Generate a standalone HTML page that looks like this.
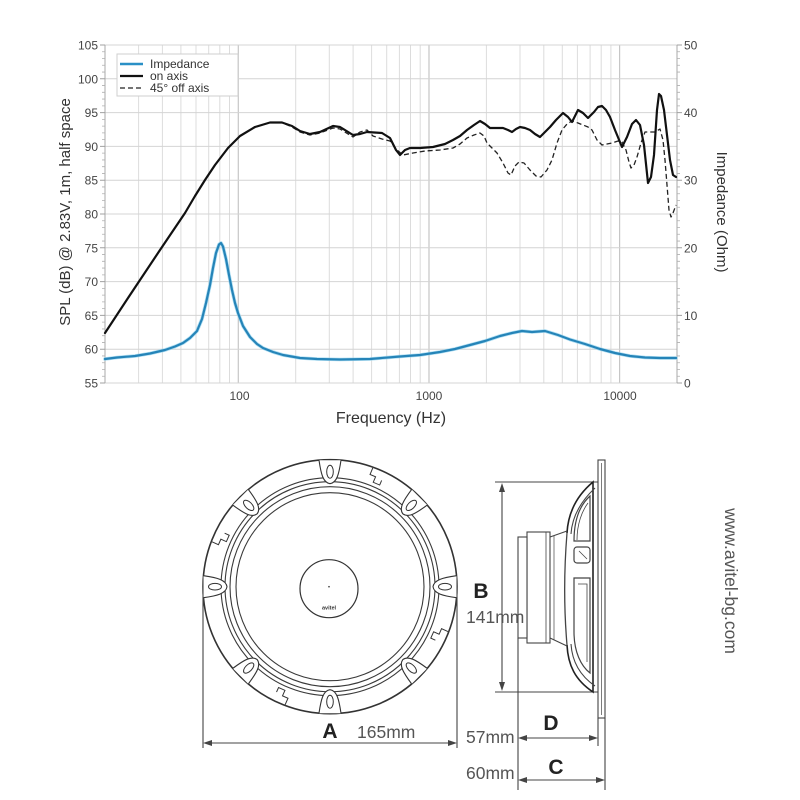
<!DOCTYPE html>
<html>
<head>
<meta charset="utf-8">
<style>
  html, body { margin:0; padding:0; background:#fff; }
  svg { display:block; }
  text { font-family: "Liberation Sans", Arial, sans-serif; }
</style>
</head>
<body>
<svg width="800" height="800" viewBox="0 0 800 800" xmlns="http://www.w3.org/2000/svg">
  <rect x="0" y="0" width="800" height="800" fill="#ffffff"/>

  <!-- ===== CHART GRID ===== -->
  <g stroke="#dcdcdc" stroke-width="1" fill="none">
    <line x1="138.6" y1="45" x2="138.6" y2="383"/>
    <line x1="162.4" y1="45" x2="162.4" y2="383"/>
    <line x1="180.9" y1="45" x2="180.9" y2="383"/>
    <line x1="196.0" y1="45" x2="196.0" y2="383"/>
    <line x1="208.7" y1="45" x2="208.7" y2="383"/>
    <line x1="219.8" y1="45" x2="219.8" y2="383"/>
    <line x1="229.5" y1="45" x2="229.5" y2="383"/>
    <line x1="295.7" y1="45" x2="295.7" y2="383"/>
    <line x1="329.3" y1="45" x2="329.3" y2="383"/>
    <line x1="353.1" y1="45" x2="353.1" y2="383"/>
    <line x1="371.6" y1="45" x2="371.6" y2="383"/>
    <line x1="386.7" y1="45" x2="386.7" y2="383"/>
    <line x1="399.4" y1="45" x2="399.4" y2="383"/>
    <line x1="410.5" y1="45" x2="410.5" y2="383"/>
    <line x1="420.2" y1="45" x2="420.2" y2="383"/>
    <line x1="486.4" y1="45" x2="486.4" y2="383"/>
    <line x1="520.0" y1="45" x2="520.0" y2="383"/>
    <line x1="543.8" y1="45" x2="543.8" y2="383"/>
    <line x1="562.3" y1="45" x2="562.3" y2="383"/>
    <line x1="577.4" y1="45" x2="577.4" y2="383"/>
    <line x1="590.1" y1="45" x2="590.1" y2="383"/>
    <line x1="601.2" y1="45" x2="601.2" y2="383"/>
    <line x1="610.9" y1="45" x2="610.9" y2="383"/>
  </g>
  <g stroke="#c6c6c6" stroke-width="1.2" fill="none">
    <line x1="238.3" y1="45" x2="238.3" y2="383"/>
    <line x1="429.0" y1="45" x2="429.0" y2="383"/>
    <line x1="619.6" y1="45" x2="619.6" y2="383"/>
  </g>
  <g stroke="#d4d4d4" stroke-width="1" fill="none">
    <line x1="105" y1="45" x2="677" y2="45"/>
    <line x1="105" y1="78.8" x2="677" y2="78.8"/>
    <line x1="105" y1="112.6" x2="677" y2="112.6"/>
    <line x1="105" y1="146.4" x2="677" y2="146.4"/>
    <line x1="105" y1="180.2" x2="677" y2="180.2"/>
    <line x1="105" y1="214" x2="677" y2="214"/>
    <line x1="105" y1="247.8" x2="677" y2="247.8"/>
    <line x1="105" y1="281.6" x2="677" y2="281.6"/>
    <line x1="105" y1="315.4" x2="677" y2="315.4"/>
    <line x1="105" y1="349.2" x2="677" y2="349.2"/>
    <line x1="105" y1="383" x2="677" y2="383"/>
  </g>

  <g stroke="#a8a8a8" stroke-width="1" fill="none">
    <line x1="105" y1="45" x2="105" y2="383"/>
    <line x1="677" y1="45" x2="677" y2="383"/>
  </g>
  <g stroke="#b0b0b0" stroke-width="0.8" fill="none">
    <path d="M102,51.76h3M102,58.52h3M102,65.28h3M102,72.04h3M102,85.56h3M102,92.32h3M102,99.08h3M102,105.84h3M102,119.36h3M102,126.12h3M102,132.88h3M102,139.64h3M102,153.16h3M102,159.92h3M102,166.68h3M102,173.44h3M102,186.96h3M102,193.72h3M102,200.48h3M102,207.24h3M102,220.76h3M102,227.52h3M102,234.28h3M102,241.04h3M102,254.56h3M102,261.32h3M102,268.08h3M102,274.84h3M102,288.36h3M102,295.12h3M102,301.88h3M102,308.64h3M102,322.16h3M102,328.92h3M102,335.68h3M102,342.44h3M102,355.96h3M102,362.72h3M102,369.48h3M102,376.24h3"/>
    <path d="M677,51.76h3M677,58.52h3M677,65.28h3M677,72.04h3M677,85.56h3M677,92.32h3M677,99.08h3M677,105.84h3M677,119.36h3M677,126.12h3M677,132.88h3M677,139.64h3M677,153.16h3M677,159.92h3M677,166.68h3M677,173.44h3M677,186.96h3M677,193.72h3M677,200.48h3M677,207.24h3M677,220.76h3M677,227.52h3M677,234.28h3M677,241.04h3M677,254.56h3M677,261.32h3M677,268.08h3M677,274.84h3M677,288.36h3M677,295.12h3M677,301.88h3M677,308.64h3M677,322.16h3M677,328.92h3M677,335.68h3M677,342.44h3M677,355.96h3M677,362.72h3M677,369.48h3M677,376.24h3"/>
  </g>
  <g stroke="#a0a0a0" stroke-width="1" fill="none">
    <path d="M100,45h5M100,78.8h5M100,112.6h5M100,146.4h5M100,180.2h5M100,214h5M100,247.8h5M100,281.6h5M100,315.4h5M100,349.2h5M100,383h5"/>
    <path d="M677,45h5M677,112.6h5M677,180.2h5M677,247.8h5M677,315.4h5M677,383h5"/>
  </g>

  <g font-size="12" fill="#444" text-anchor="end">
    <text x="98" y="49.5">105</text>
    <text x="98" y="83.3">100</text>
    <text x="98" y="117.1">95</text>
    <text x="98" y="150.9">90</text>
    <text x="98" y="184.7">85</text>
    <text x="98" y="218.5">80</text>
    <text x="98" y="252.3">75</text>
    <text x="98" y="286.1">70</text>
    <text x="98" y="319.9">65</text>
    <text x="98" y="353.7">60</text>
    <text x="98" y="387.5">55</text>
  </g>
  <g font-size="12" fill="#444" text-anchor="start">
    <text x="684" y="49.5">50</text>
    <text x="684" y="117.1">40</text>
    <text x="684" y="184.7">30</text>
    <text x="684" y="252.3">20</text>
    <text x="684" y="319.9">10</text>
    <text x="684" y="387.5">0</text>
  </g>
  <g font-size="12" fill="#444" text-anchor="middle">
    <text x="239.5" y="400">100</text>
    <text x="429" y="400">1000</text>
    <text x="620" y="400">10000</text>
  </g>

  <text x="391" y="423" font-size="16" fill="#333" text-anchor="middle">Frequency (Hz)</text>
  <text transform="translate(70,212) rotate(-90)" font-size="15" fill="#333" text-anchor="middle">SPL (dB) @ 2.83V, 1m, half space</text>
  <text transform="translate(717,212) rotate(90)" font-size="15" fill="#333" text-anchor="middle">Impedance (Ohm)</text>

  <!-- ===== CURVES ===== -->
  <polyline fill="none" stroke="#8fd2ee" stroke-width="3.6" stroke-linejoin="round" stroke-linecap="round" opacity="0.7"
    points="105,359 117,357.5 135,356 150,353.5 165,350 175,346.5 183,343 190,338 197,331 202,319 206,303 210,285 213,268 216,253 219,244.5 221,243 223,246.5 226,259 229,275 232,290 235,303 238,313 243,326 250,337 257,344 263,348 273,352 283,355 300,358 317,359 340,359.5 370,359 400,356.5 420,355 440,352 455,349 470,345 485,341 500,336 512,333 522,331 532,332 545,331 558,335 570,339.5 585,344 600,349 615,353 630,356 645,357.5 660,358 676,358"/>
  <polyline fill="none" stroke="#2584b8" stroke-width="2.2" stroke-linejoin="round" stroke-linecap="round"
    points="105,359 117,357.5 135,356 150,353.5 165,350 175,346.5 183,343 190,338 197,331 202,319 206,303 210,285 213,268 216,253 219,244.5 221,243 223,246.5 226,259 229,275 232,290 235,303 238,313 243,326 250,337 257,344 263,348 273,352 283,355 300,358 317,359 340,359.5 370,359 400,356.5 420,355 440,352 455,349 470,345 485,341 500,336 512,333 522,331 532,332 545,331 558,335 570,339.5 585,344 600,349 615,353 630,356 645,357.5 660,358 676,358"/>

  <polyline fill="none" stroke="#222" stroke-width="1.3" stroke-dasharray="5,3" stroke-linejoin="round"
    points="105,333 130,295 160,250 185,213 195,196 205,180 215,165 228,148 240,136 255,127 270,122.5 282,122.5 292,127 300,132 310,135 320,133 333,128 340,129 353,137 360,132 367,130 373,136 382,139 390,141 397,150 403,155 413,153 425,151 440,150 453,148 460,144 467,138 474,135 480,133 484,136 487,143 492,148 497,153 503,163 508,173 511,175 515,166 519,162 524,163 530,170 536,176 541,177 547,170 552,160 557,143 562,130 567,124 572,121 578,123 583,125 588,127 592,130 597,140 602,145 607,144 612,143 618,141 622,142 626,150 629,162 631,168 634,165 637,157 641,143 645,132 650,132 655,132 660,129 663,140 665,160 667,185 669,210 671,217 673,213 676,205"/>

  <polyline fill="none" stroke="#111" stroke-width="2.2" stroke-linejoin="round" stroke-linecap="round"
    points="105,333 130,295 160,250 185,213 195,196 205,180 215,165 228,148 240,136 255,127 270,122.5 282,122.5 292,126 300,131 310,134 320,132 333,126 340,127 353,135 360,134 367,132 382,133 390,138 396,150 400,155 405,150 410,148 420,148 433,147 445,144 453,140 460,136 467,130 474,125 480,121 485,124 490,128 497,128 503,128 508,130 512,132 516,129 520,127 525,128 530,130 535,134 540,137 545,132 550,127 556,120 563,113 568,117 572,122 575,116 578,110 583,113 588,118 594,112 598,107 602,106 606,110 610,117 615,130 622,147 627,137 632,124 636,120 640,125 644,145 648,183 651,177 654,155 657,110 659,94 661,96 664,110 667,135 670,160 673,175 676,177"/>

  <!-- legend -->
  <rect x="117" y="54" width="121" height="42" fill="#ffffff" stroke="#cfcfcf" stroke-width="1"/>
  <line x1="120" y1="64" x2="143" y2="64" stroke="#2a90c6" stroke-width="2.4"/>
  <line x1="120" y1="76" x2="143" y2="76" stroke="#111" stroke-width="2.2"/>
  <line x1="120" y1="88" x2="143" y2="88" stroke="#222" stroke-width="1.3" stroke-dasharray="5,3"/>
  <g font-size="12" fill="#333">
    <text x="150" y="68">Impedance</text>
    <text x="150" y="80">on axis</text>
    <text x="150" y="92">45° off axis</text>
  </g>

  <!-- ===== FRONT VIEW SPEAKER ===== -->
  <defs>
    <g id="lobe">
      <path d="M-11,-126.5 C-9,-113 -7,-104 0,-103 C7,-104 9,-113 11,-126.5" fill="#fff" stroke="#333" stroke-width="1.1"/>
      <ellipse cx="0" cy="-115" rx="3.3" ry="6.5" fill="none" stroke="#333" stroke-width="1"/>
    </g>
    <g id="notch">
      <path d="M-7,-126 L-7,-119 L-1,-119 L-1,-113 L6,-113 L6,-118" fill="none" stroke="#333" stroke-width="1"/>
    </g>
  </defs>
  <g transform="translate(330,586.7)">
    <circle cx="0" cy="0" r="127" fill="#fff" stroke="#333" stroke-width="1.6"/>
    <g fill="none" stroke="#3a3a3a" stroke-width="1.1">
      <circle cx="0" cy="0" r="109"/>
      <circle cx="0" cy="0" r="105"/>
      <circle cx="0" cy="0" r="100"/>
      <circle cx="0" cy="0" r="94"/>
    </g>
    <use href="#lobe" transform="rotate(0)"/>
    <use href="#lobe" transform="rotate(45)"/>
    <use href="#lobe" transform="rotate(90)"/>
    <use href="#lobe" transform="rotate(135)"/>
    <use href="#lobe" transform="rotate(180)"/>
    <use href="#lobe" transform="rotate(225)"/>
    <use href="#lobe" transform="rotate(270)"/>
    <use href="#lobe" transform="rotate(315)"/>
    <use href="#notch" transform="rotate(23)"/>
    <use href="#notch" transform="rotate(114)"/>
    <use href="#notch" transform="rotate(204)"/>
    <use href="#notch" transform="rotate(294)"/>
    <circle cx="-1" cy="2" r="29" fill="none" stroke="#333" stroke-width="1.2"/>
    <circle cx="-1" cy="0" r="0.8" fill="#333"/>
    <text x="-1" y="23" font-size="5.5" font-weight="bold" fill="#333" text-anchor="middle">avitel</text>
  </g>

  <g stroke="#444" stroke-width="1.1" fill="none">
    <line x1="203" y1="578" x2="203" y2="748"/>
    <line x1="457" y1="578" x2="457" y2="748"/>
    <line x1="206" y1="743" x2="454" y2="743"/>
  </g>
  <path d="M203,743 L212,740 L212,746 Z" fill="#444"/>
  <path d="M457,743 L448,740 L448,746 Z" fill="#444"/>
  <text x="330" y="738" font-size="21" font-weight="bold" fill="#222" text-anchor="middle">A</text>
  <text x="357" y="738" font-size="17.5" fill="#555">165mm</text>

  <!-- ===== SIDE VIEW ===== -->
  <g stroke="#444" stroke-width="1.1" fill="none">
    <rect x="598" y="460" width="7" height="258" fill="#fff"/>
    <line x1="601.5" y1="463" x2="601.5" y2="715" stroke-width="0.7"/>
    <line x1="598" y1="718" x2="598" y2="746"/>
    <line x1="605" y1="718" x2="605" y2="790"/>
    <line x1="495" y1="482" x2="598" y2="482" stroke-width="1"/>
    <line x1="495" y1="692" x2="598" y2="692" stroke-width="1"/>
    <line x1="502" y1="488" x2="502" y2="686"/>
    <path d="M567,533 C568,515 575,497 593,482 L593,692 C575,680 568,665 567,645" stroke="#222" stroke-width="1.6"/>
    <path d="M571,534 C572,518 579,503 595,488" stroke-width="1.1"/>
    <path d="M571,644 C572,660 579,675 595,686" stroke-width="1.1"/>
    <path d="M567,533 C564,570 564,610 567,645" stroke-width="1.3"/>
    <path d="M574,541 C574,520 580,505 590,496 L590,541 Z" stroke-width="1.2"/>
    <path d="M577,540 C577,524 582,511 588,503" stroke-width="0.8"/>
    <rect x="574" y="547" width="16" height="16" rx="3" stroke-width="1.2"/>
    <line x1="579" y1="551" x2="587" y2="559" stroke-width="0.8"/>
    <path d="M574,578 L590,578 L590,673 C581,666 574,652 574,632 Z" stroke-width="1.2"/>
    <path d="M578,584 L587,584 L587,662" stroke-width="0.8"/>
    <rect x="527" y="532" width="23" height="111" fill="#fff"/>
    <rect x="518" y="537" width="9" height="101" fill="#fff"/>
    <line x1="546" y1="532" x2="546" y2="643" stroke-width="0.8"/>
    <path d="M550,537 L567,531 M550,638 L567,646"/>
    <path d="M554,536 L554,640" stroke-width="0.7"/>
    <line x1="518" y1="638" x2="518" y2="790"/>
    <line x1="521" y1="738" x2="595" y2="738"/>
    <line x1="521" y1="780" x2="602" y2="780"/>
  </g>
  <path d="M502,483 L499,492 L505,492 Z" fill="#444"/>
  <path d="M502,691 L499,682 L505,682 Z" fill="#444"/>
  <path d="M518,738 L527,735 L527,741 Z" fill="#444"/>
  <path d="M598,738 L589,735 L589,741 Z" fill="#444"/>
  <path d="M518,780 L527,777 L527,783 Z" fill="#444"/>
  <path d="M605,780 L596,777 L596,783 Z" fill="#444"/>

  <text x="481" y="598" font-size="21" font-weight="bold" fill="#222" text-anchor="middle">B</text>
  <text x="466" y="623" font-size="17.5" fill="#555">141mm</text>
  <text x="551" y="730" font-size="21" font-weight="bold" fill="#222" text-anchor="middle">D</text>
  <text x="466" y="743" font-size="17.5" fill="#555">57mm</text>
  <text x="556" y="774" font-size="21" font-weight="bold" fill="#222" text-anchor="middle">C</text>
  <text x="466" y="779" font-size="17.5" fill="#555">60mm</text>

  <text transform="translate(725,581) rotate(90)" font-size="17.5" fill="#555" text-anchor="middle">www.avitel-bg.com</text>
</svg>
</body>
</html>
